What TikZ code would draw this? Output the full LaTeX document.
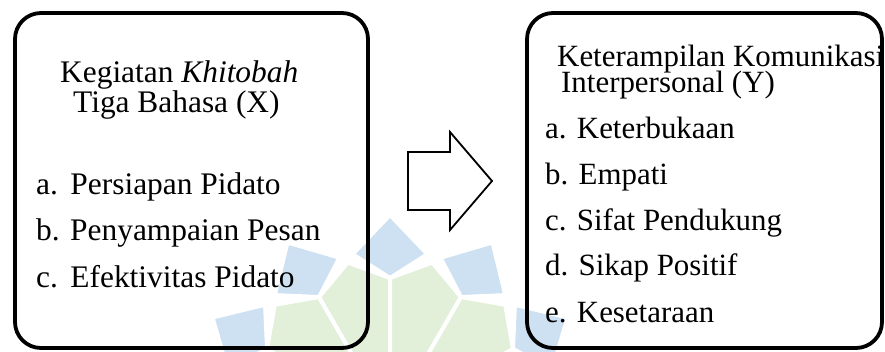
\documentclass[tikz,border=0pt]{standalone}
\usepackage{fontspec}
\setmainfont{Liberation Serif}
\definecolor{wmblue}{RGB}{205,225,242}
\definecolor{wmgreen}{RGB}{227,240,217}
\begin{document}
\begin{tikzpicture}[x=1pt,y=-1pt,
  txtl/.style={anchor=base west, inner sep=0pt, font=\fontsize{31.4}{34}\selectfont},
  txtr/.style={anchor=base west, inner sep=0pt, font=\fontsize{30.9}{34}\selectfont},
  frame/.style={draw=black, line width=3.8pt, rounded corners=26pt, inner sep=0pt},
  wm/.style={draw=white, line width=4pt, line join=round}]
\useasboundingbox (0,0) rectangle (885,351);
\coordinate (C) at (390,420);
% watermark
\begin{scope}
\clip (0,0) rectangle (885,351);
\foreach \p in {-60,-30,0,30,60} {
  \pgfmathsetmacro\a{90-\p}
  \pgfmathsetmacro\al{\a+12.7}
  \pgfmathsetmacro\ar{\a-12.7}
  \filldraw[wm, fill=wmblue] ([shift={(\a:142pt)}]C) -- ([shift={(\al:170pt)}]C) -- ([shift={(\a:205pt)}]C) -- ([shift={(\ar:170pt)}]C) -- cycle;
}
\foreach \p in {-75,-45,-15,15,45,75} {
  \pgfmathsetmacro\a{90-\p}
  \pgfmathsetmacro\al{\a+15}
  \pgfmathsetmacro\ar{\a-15}
  \filldraw[wm, fill=wmgreen] ([shift={(\a:163pt)}]C) -- ([shift={(\al:142pt)}]C) -- ([shift={(\al:30pt)}]C) -- ([shift={(\ar:30pt)}]C) -- ([shift={(\ar:142pt)}]C) -- cycle;
}
\end{scope}
% boxes
\node[frame, minimum width=353pt, minimum height=335pt] (bx) at (191.5,180.5) {};
\node[frame, minimum width=355pt, minimum height=335pt] (by) at (704.5,180.5) {};
% block arrow
\draw[line width=1.8pt, fill=white, line join=miter] (408,152) -- (450,152) -- (450,132) -- (492,181) -- (450,230) -- (450,210) -- (408,210) -- cycle;
% texts left
\node[txtl] (x1) at (60,82) {Kegiatan \textit{Khitobah}};
\node[txtl] (x2) at (73,112) {Tiga Bahasa (X)};
\node[txtl] (xa) at (36,194) {a.\hspace{2pt} Persiapan Pidato};
\node[txtl] (xb) at (36,240) {b. Penyampaian Pesan};
\node[txtl] (xc) at (36,287) {c.\hspace{2pt} Efektivitas Pidato};
% texts right
\node[txtr] (y1) at (557,66) {Keterampilan Komunikasi};
\node[txtr] (y2) at (561,92) {Interpersonal (Y)};
\node[txtr] (ya) at (545,138) {a. Keterbukaan};
\node[txtr] (yb) at (545,184) {b. Empati};
\node[txtr] (yc) at (545,230) {c. Sifat Pendukung};
\node[txtr] (yd) at (545,275) {d. Sikap Positif};
\node[txtr] (ye) at (545,322) {e. Kesetaraan};
\end{tikzpicture}
\end{document}
